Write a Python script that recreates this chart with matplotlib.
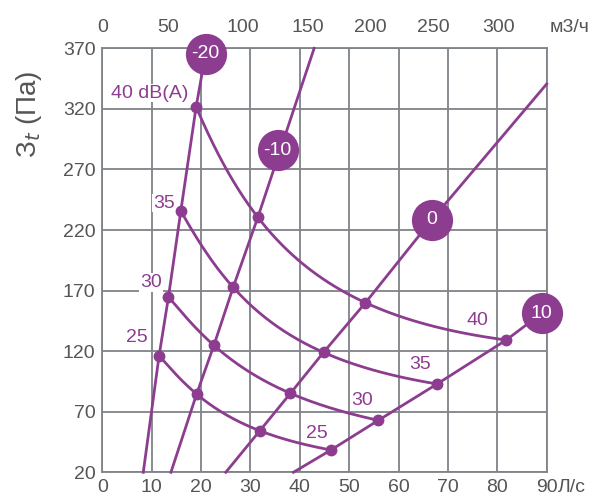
import numpy as np
import matplotlib
matplotlib.use("Agg")
import matplotlib.pyplot as plt

plt.rcParams['font.family'] = ['Liberation Sans', 'DejaVu Sans']

# damper positions: straight lines (L/s, Pa)
line_m20_q = [8.3, 11.5, 13.4, 15.9, 19.0, 20.9]
line_m20_p = [20, 116.2, 164.7, 235.7, 321.6, 365.3]
line_m10_q = [13.9, 19.1, 22.6, 26.5, 31.5, 42.9]
line_m10_p = [20, 84.6, 124.8, 172.7, 230.5, 370]
line_0_q = [25.0, 31.9, 38.1, 44.8, 53.3, 66.7, 90.0]
line_0_p = [20, 54.3, 85.2, 119.0, 160.0, 228.3, 340.6]
line_10_q = [38.7, 46.3, 55.9, 67.8, 81.8, 89.0]
line_10_p = [20, 38.4, 62.9, 92.9, 129.2, 151.3]

# sound level curves dB(A)
db25_q = [11.5, 19.1, 31.9, 46.3]
db25_p = [116.2, 84.6, 54.3, 38.4]
db30_q = [13.4, 22.6, 38.1, 55.9]
db30_p = [164.7, 124.8, 85.2, 62.9]
db35_q = [15.9, 26.5, 44.8, 67.8]
db35_p = [235.7, 172.7, 119.0, 92.9]
db40_q = [19.0, 31.5, 53.3, 81.8]
db40_p = [321.6, 230.5, 160.0, 129.2]

# badge labels of the lines
badge_text = ['-20', '-10', '0', '10']
badge_q = [20.9, 35.5, 66.7, 89.0]
badge_p = [365.3, 286.0, 228.3, 151.3]

# curve labels
lab_text = ['40 dB(A)', '35', '30', '25', '40', '35', '30', '25']
lab_q = [9.5, 12.5, 9.85, 7.0, 76.0, 64.3, 52.7, 43.4]
lab_p = [333, 242.3, 176.7, 131.1, 144.9, 108.6, 79.1, 52.2]

x_ticks = [0, 10, 20, 30, 40, 50, 60, 70, 80, 90]
y_ticks = [20, 70, 120, 170, 220, 270, 320, 370]
top_labels = ['0', '50', '100', '150', '200', '250', '300']
top_pos = [0, 13.3, 28.4, 41.7, 54.2, 67.1, 80.2]

purple = '#8c3d8f'
grid_c = '#7f8489'
text_c = '#555555'
fs = 14

fig = plt.figure(figsize=(5.92, 4.99), dpi=100)
ax = fig.add_axes([0.1728, 0.0535, 0.7507, 0.8497])
ax.set_xlim(0, 90)
ax.set_ylim(20, 370)
ax.set_xticks(x_ticks)
ax.set_yticks(y_ticks)
ax.set_xticklabels([str(t) for t in x_ticks])
ax.grid(True, color=grid_c, lw=1.3, zorder=0)
ax.set_axisbelow(True)
for s in ax.spines.values():
    s.set_color(grid_c)
    s.set_linewidth(1.3)
ax.tick_params(length=0, labelsize=fs, labelcolor=text_c, pad=5)

ax2 = ax.twiny()
ax2.set_xlim(0, 90)
ax2.set_xticks(top_pos)
ax2.set_xticklabels(top_labels)
ax2.tick_params(length=0, labelsize=fs, labelcolor=text_c, pad=9)
for s in ax2.spines.values():
    s.set_visible(False)

for q, p in [(line_m20_q, line_m20_p), (line_m10_q, line_m10_p),
             (line_0_q, line_0_p), (line_10_q, line_10_p)]:
    ax.plot(q, p, color=purple, lw=2.0, zorder=3, clip_on=False)

for q, p in [(db25_q, db25_p), (db30_q, db30_p), (db35_q, db35_p), (db40_q, db40_p)]:
    lq, lp = np.log(q), np.log(p)
    c = np.polyfit(lq, lp, 3)
    xs = np.linspace(lq[0], lq[-1], 200)
    ax.plot(np.exp(xs), np.exp(np.polyval(c, xs)), color=purple, lw=2.0, zorder=3)
    ax.plot(q, p, 'o', color=purple, ms=7.5, zorder=4)

for t, q, p in zip(badge_text, badge_q, badge_p):
    ax.scatter([q], [p], s=880, color=purple, zorder=5, clip_on=False, linewidths=0)
    ax.text(q, p, t, color='white', fontsize=fs, ha='center', va='center',
            zorder=6, clip_on=False)

for t, q, p in zip(lab_text, lab_q, lab_p):
    ax.text(q, p, t, color=purple, fontsize=fs, ha='center', va='center', zorder=2,
            bbox=dict(facecolor='white', edgecolor='none', pad=0.5))

ax.annotate('Л/с', xy=(1.0, 0), xycoords='axes fraction', xytext=(8, -5),
            textcoords='offset points', ha='left', va='top', fontsize=fs, color=text_c)
ax.annotate('м3/ч', xy=(1.0, 1.0), xycoords='axes fraction', xytext=(2, 15),
            textcoords='offset points', ha='left', va='center', fontsize=fs, color=text_c)

fig.text(29 / 592, 1 - 114 / 499, 'З$_t$ (Па)', rotation=90, ha='center', va='center',
         fontsize=20, color=text_c)

fig.savefig('out.png', dpi=100)
